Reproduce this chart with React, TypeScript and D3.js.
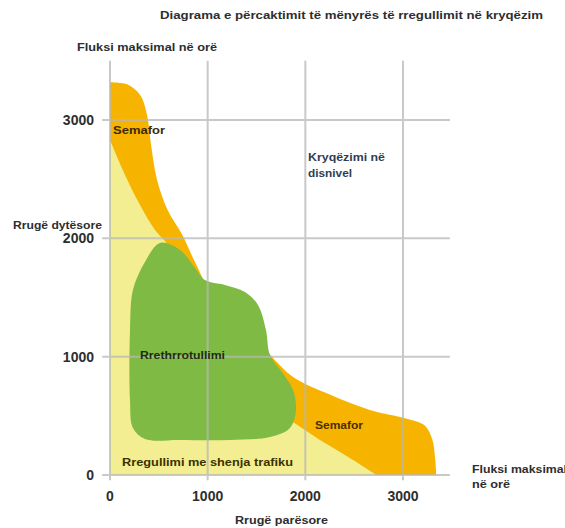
import React from "react";
import * as d3 from "d3";

const xTicks = [0, 1000, 2000, 3000];
const yTicks = [0, 1000, 2000, 3000];

// Semafor (orange) outer boundary, from y-axis top to x-axis right
const semaforEdge: [number, number][] = [
  [0, 3320], [180, 3300], [310, 3210], [380, 3040], [420, 2790], [480, 2500],
  [590, 2240], [740, 2030], [870, 1800], [1080, 1480], [1430, 1230], [1690, 970],
  [1890, 820], [2250, 680], [2660, 550], [3020, 480], [3220, 420], [3300, 300],
  [3330, 130], [3340, 0],
];

// Rregullimi me shenja trafiku (yellow) boundary
const shenjaEdge: [number, number][] = [
  [0, 2830], [154, 2536], [307, 2282], [461, 2071], [594, 1944], [921, 1479],
  [1535, 634], [1842, 465], [2150, 296], [2456, 144], [2730, 0],
];

// Rrethrrotullimi (green) blob
const rrethEdge: [number, number][] = [
  [512, 1961], [716, 1902], [870, 1750], [972, 1648], [1177, 1606], [1382, 1547],
  [1515, 1437], [1597, 1226], [1638, 1014], [1760, 871], [1873, 719], [1904, 549],
  [1842, 397], [1638, 321], [1228, 296], [716, 296], [358, 304], [235, 397],
  [205, 634], [205, 1226], [235, 1564], [358, 1800],
];

const W = 565;
const H = 528;

export default function App() {
  const x = d3.scaleLinear().domain([0, 3000]).range([110, 403]);
  const y = d3.scaleLinear().domain([0, 3000]).range([475, 120]);

  const open = d3
    .line<[number, number]>()
    .x((d) => x(d[0]))
    .y((d) => y(d[1]))
    .curve(d3.curveCatmullRom.alpha(0.5));
  const closed = d3
    .line<[number, number]>()
    .x((d) => x(d[0]))
    .y((d) => y(d[1]))
    .curve(d3.curveCatmullRomClosed.alpha(0.5));

  const orangePath = open(semaforEdge) + `L${x(0)},${y(0)}Z`;
  const yellowPath = open(shenjaEdge) + `L${x(0)},${y(0)}Z`;
  const greenPath = closed(rrethEdge) as string;

  const font = "'Liberation Sans', Arial, sans-serif";
  const dark = "#2e2e2e";
  const adj = "spacingAndGlyphs";

  return (
    <svg
      width={W}
      height={H}
      style={{ position: "absolute", left: 0, top: 0, background: "#fff" }}
      fontFamily={font}
      fontWeight="bold"
    >
      <rect width={W} height={H} fill="#fff" />
      <path d={orangePath} fill="#F6B300" />
      <path d={yellowPath} fill="#F3EE92" />
      <path d={greenPath} fill="#7EBA44" />

      {/* grid */}
      <g stroke="#b8b8b8" strokeWidth={2} opacity={0.75}>
        {xTicks.map((t) => (
          <line key={"vx" + t} x1={x(t)} x2={x(t)} y1={y(3500)} y2={y(-45)} />
        ))}
        {yTicks.map((t) => (
          <line key={"hy" + t} x1={x(-80)} x2={x(3480)} y1={y(t)} y2={y(t)} />
        ))}
      </g>

      {/* tick labels */}
      <g fontSize={14} fill={dark}>
        {yTicks.map((t) => (
          <text key={"yl" + t} x={x(0) - 16} y={y(t) + 5} textAnchor="end">
            {t}
          </text>
        ))}
        {xTicks.map((t) => (
          <text key={"xl" + t} x={x(t)} y={501} textAnchor="middle">
            {t}
          </text>
        ))}
      </g>

      {/* titles */}
      <text x={160} y={19} fontSize={10.5} fill={dark} textLength={383} lengthAdjust={adj}>
        Diagrama e përcaktimit të mënyrës të rregullimit në kryqëzim
      </text>
      <text x={77} y={51} fontSize={11} fill={dark} textLength={140} lengthAdjust={adj}>
        Fluksi maksimal në orë
      </text>
      <text x={13} y={229} fontSize={10.5} fill={dark} textLength={89} lengthAdjust={adj}>
        Rrugë dytësore
      </text>
      <text x={235} y={524} fontSize={11.5} fill={dark} textLength={93} lengthAdjust={adj}>
        Rrugë parësore
      </text>
      <text x={472} y={473} fontSize={11} fill={dark}>
        <tspan x={472} textLength={95} lengthAdjust={adj}>Fluksi maksimal</tspan>
        <tspan x={472} dy={15} textLength={38} lengthAdjust={adj}>në orë</tspan>
      </text>

      {/* region labels */}
      <text x={308} y={161} fontSize={10.5} fill="#2f3d55">
        <tspan x={308} textLength={77} lengthAdjust={adj}>Kryqëzimi në</tspan>
        <tspan x={308} dy={16} textLength={44} lengthAdjust={adj}>disnivel</tspan>
      </text>
      <text x={113} y={134} fontSize={10.5} fill="#3d2a00" textLength={52} lengthAdjust={adj}>
        Semafor
      </text>
      <text x={315} y={429} fontSize={10.5} fill="#4a2e00" textLength={48} lengthAdjust={adj}>
        Semafor
      </text>
      <text x={140} y={359} fontSize={10.5} fill="#1d2e0c" textLength={85} lengthAdjust={adj}>
        Rrethrrotullimi
      </text>
      <text x={122} y={466} fontSize={11} fill="#3b3200" textLength={171} lengthAdjust={adj}>
        Rregullimi  me shenja trafiku
      </text>
    </svg>
  );
}
